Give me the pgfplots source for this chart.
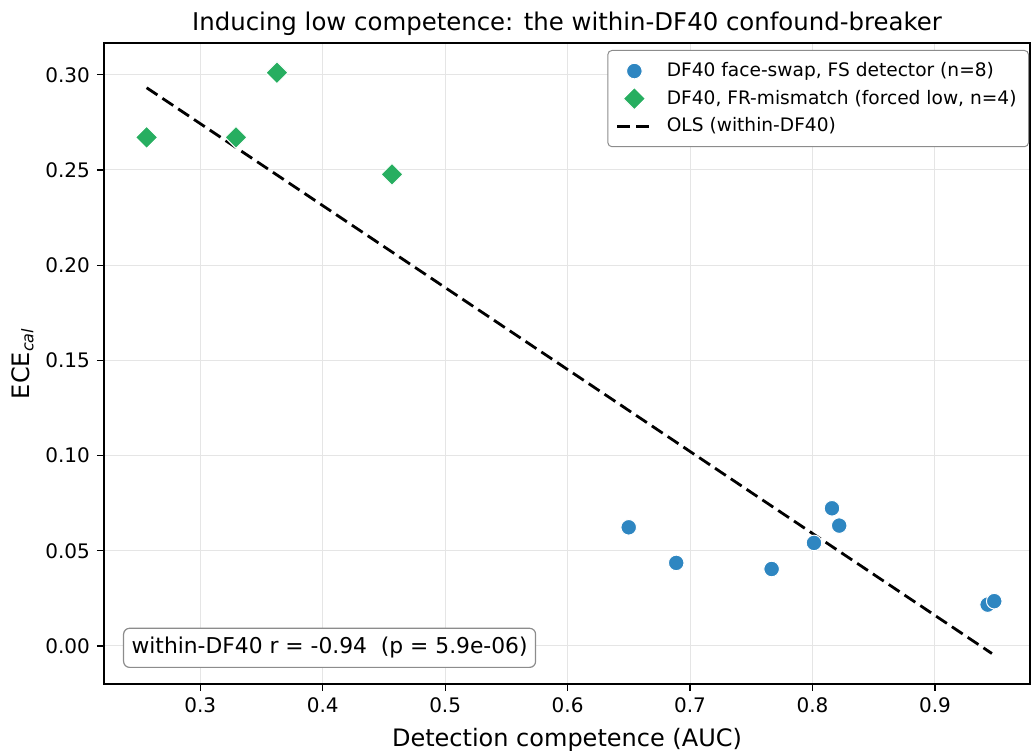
\documentclass[border=0pt]{standalone}
\usepackage{fontspec}
\setmainfont{DejaVu Sans}
\usepackage{pgfplots}
\pgfplotsset{compat=1.18}
\definecolor{fsblue}{RGB}{46,134,193}
\definecolor{frgreen}{RGB}{39,174,96}
\begin{document}
\begin{tikzpicture}
\begin{axis}[
  scale only axis,
  width=463pt, height=320.5pt,
  xmin=0.2214, xmax=0.9776,
  ymin=-0.02, ymax=0.3167,
  xtick={0.3,0.4,0.5,0.6,0.7,0.8,0.9},
  ytick={0,0.05,0.10,0.15,0.20,0.25,0.30},
  xticklabel style={/pgf/number format/.cd,fixed,fixed zerofill,precision=1},
  yticklabel style={/pgf/number format/.cd,fixed,fixed zerofill,precision=2},
  /pgf/number format/assume math mode=true,
  tick label style={font=\fontsize{10}{12}\selectfont},
  tick align=outside,
  tick pos=left,
  major tick length=3.5pt,
  axis line style={line width=0.8pt},
  every tick/.style={black, line width=0.6pt},
  grid=major,
  major grid style={line width=0.5pt, color=black!10},
  xlabel={Detection competence (AUC)},
  ylabel={ECE\textsubscript{\itshape cal}},
  label style={font=\fontsize{12}{14}\selectfont},
  xlabel style={yshift=-0.5pt},
  ylabel style={yshift=-1pt},
  title={Inducing low competence: the within-DF40 confound-breaker},
  title style={font=\fontsize{12.2}{14}\selectfont, yshift=-6pt},
  legend style={at={(rel axis cs:1,1)}, anchor=north east, xshift=-0.5pt, yshift=-3.5pt,
    draw=black!45, rounded corners=2pt, line width=0.5pt,
    font=\fontsize{9.3}{11}\selectfont, row sep=1.2pt, inner xsep=4pt, inner ysep=4pt,
    /tikz/every odd column/.append style={column sep=5pt}},
  legend cell align=left,
]
\addplot[only marks, mark=*, mark size=3.9pt, mark options={fill=fsblue, draw=white, line width=0.5pt}]
  coordinates {
  (0.6499,0.0623) (0.6887,0.0436) (0.7666,0.0404) (0.8012,0.0541)
  (0.8159,0.0723) (0.8218,0.0632) (0.9430,0.0217) (0.9484,0.0235)
  };
\addlegendentry{DF40 face-swap, FS detector (n=8)}
\addplot[only marks, mark=square*, mark size=3.9pt, mark options={fill=frgreen, draw=white, line width=0.5pt, rotate=45}]
  coordinates {
  (0.2562,0.2671) (0.3292,0.2671) (0.3626,0.3011) (0.4566,0.2477)
  };
\addlegendentry{DF40, FR-mismatch (forced low, n=4)}
\addplot[black, line width=1.4pt, dash pattern=on 6.5pt off 3pt, no marks]
  coordinates {(0.2562,0.2932) (0.9465,-0.0040)};
\addlegendentry{OLS (within-DF40)}
\node[anchor=south west, draw=black!45, rounded corners=3pt, line width=0.6pt, fill=white,
  font=\fontsize{10.9}{12}\selectfont, inner xsep=4pt, inner ysep=4.5pt]
  at ([xshift=9.5pt,yshift=8pt]rel axis cs:0,0) {within-DF40 r = -0.94\ \ (p = 5.9e-06)};
\coordinate (SW) at (rel axis cs:0,0);
\coordinate (NE) at (rel axis cs:1,1);
\end{axis}
\pgfresetboundingbox
\path[use as bounding box] ([shift={(-52pt,-34.5pt)}]SW) rectangle ([shift={(0.5pt,21.5pt)}]NE);
\end{tikzpicture}
\end{document}
